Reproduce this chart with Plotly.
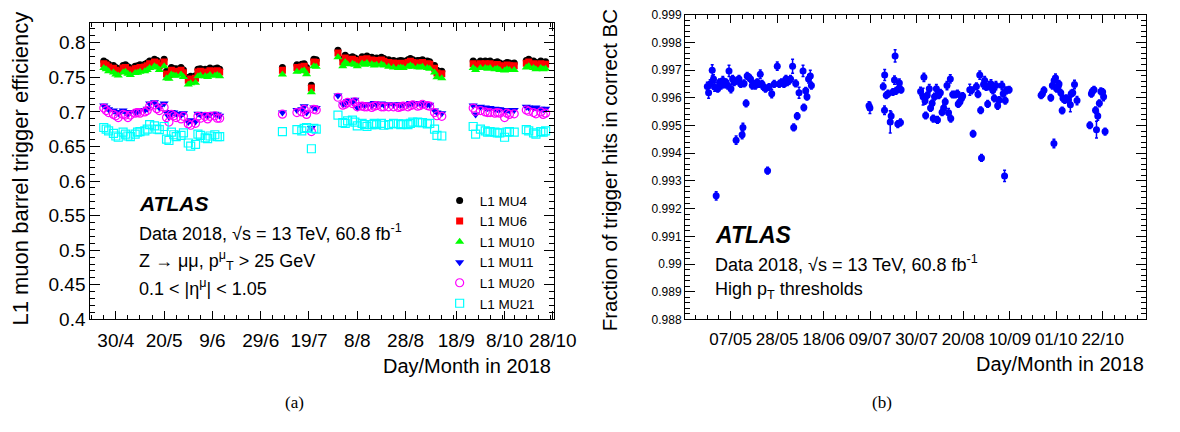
import plotly.graph_objects as go

# ---------------- panel (a): L1 muon barrel trigger efficiency ----------------
eff_dates = [
    "2018-04-25", "2018-04-26", "2018-04-27", "2018-04-29", "2018-04-30", "2018-05-01", "2018-05-03",
    "2018-05-04", "2018-05-05", "2018-05-06", "2018-05-08", "2018-05-09", "2018-05-10", "2018-05-12",
    "2018-05-13", "2018-05-14", "2018-05-16", "2018-05-17", "2018-05-18", "2018-05-20",
    "2018-05-21", "2018-05-22",
    "2018-05-23", "2018-05-24", "2018-05-25", "2018-05-27", "2018-05-28",
    "2018-05-30", "2018-05-31", "2018-06-02",
    "2018-06-03", "2018-06-04", "2018-06-06", "2018-06-07", "2018-06-08", "2018-06-10", "2018-06-11", "2018-06-12",
    "2018-07-08",
    "2018-07-14", "2018-07-16", "2018-07-17", "2018-07-18", "2018-07-20", "2018-07-21", "2018-07-22",
    "2018-07-31",
    "2018-08-02", "2018-08-03", "2018-08-04", "2018-08-06", "2018-08-07", "2018-08-08", "2018-08-10",
    "2018-08-11", "2018-08-12", "2018-08-14", "2018-08-15", "2018-08-16", "2018-08-18", "2018-08-19", "2018-08-21",
    "2018-08-23", "2018-08-25", "2018-08-26", "2018-08-27", "2018-08-29", "2018-08-30", "2018-08-31",
    "2018-09-02", "2018-09-03", "2018-09-04", "2018-09-06", "2018-09-07",
    "2018-09-09", "2018-09-10", "2018-09-12",
    "2018-09-25", "2018-09-26", "2018-09-28", "2018-09-30", "2018-10-01", "2018-10-02", "2018-10-04",
    "2018-10-05", "2018-10-06", "2018-10-08", "2018-10-09", "2018-10-10", "2018-10-12",
    "2018-10-17", "2018-10-18", "2018-10-20", "2018-10-21", "2018-10-23", "2018-10-24", "2018-10-25",
]

eff_mu4 = [
    0.7734, 0.7715, 0.7688, 0.7670, 0.7642, 0.7624, 0.7670, 0.7679, 0.7651, 0.7633, 0.7660, 0.7665, 0.7679, 0.7688,
    0.7706, 0.7734, 0.7761, 0.7743, 0.7706, 0.7761,
    0.7587, 0.7578,
    0.7642, 0.7624, 0.7624, 0.7642, 0.7605,
    0.7495, 0.7514, 0.7523,
    0.7615, 0.7624, 0.7615, 0.7605, 0.7633, 0.7624, 0.7633, 0.7615,
    0.7642,
    0.7679, 0.7688, 0.7697, 0.7642, 0.7385, 0.7761, 0.7752,
    0.7890,
    0.7761, 0.7817, 0.7789, 0.7798, 0.7780, 0.7761, 0.7798, 0.7780, 0.7807, 0.7789, 0.7771, 0.7780, 0.7789, 0.7771, 0.7752,
    0.7743, 0.7734, 0.7743, 0.7734, 0.7752, 0.7771, 0.7752, 0.7743, 0.7743, 0.7752, 0.7734, 0.7725,
    0.7670, 0.7601, 0.7587,
    0.7734, 0.7706, 0.7734, 0.7734, 0.7725, 0.7734, 0.7715, 0.7725, 0.7706, 0.7697, 0.7715, 0.7706, 0.7706,
    0.7743, 0.7761, 0.7734, 0.7715, 0.7734, 0.7715, 0.7725,
]

eff_mu6 = [
    0.7695, 0.7678, 0.7650, 0.7631, 0.7603, 0.7586, 0.7632, 0.7641, 0.7610, 0.7595, 0.7622, 0.7625, 0.7640, 0.7650,
    0.7668, 0.7694, 0.7722, 0.7705, 0.7667, 0.7720,
    0.7548, 0.7540,
    0.7603, 0.7586, 0.7584, 0.7603, 0.7566,
    0.7455, 0.7476, 0.7484,
    0.7576, 0.7586, 0.7577, 0.7565, 0.7594, 0.7585, 0.7594, 0.7577,
    0.7603,
    0.7640, 0.7650, 0.7658, 0.7604, 0.7346, 0.7722, 0.7713,
    0.7851,
    0.7722, 0.7778, 0.7751, 0.7759, 0.7741, 0.7722, 0.7760, 0.7741, 0.7768, 0.7750, 0.7733, 0.7741, 0.7750, 0.7732, 0.7713,
    0.7705, 0.7695, 0.7704, 0.7696, 0.7713, 0.7732, 0.7714, 0.7704, 0.7705, 0.7713, 0.7695, 0.7687,
    0.7631, 0.7562, 0.7549,
    0.7695, 0.7668, 0.7695, 0.7696, 0.7686, 0.7695, 0.7677, 0.7686, 0.7668, 0.7658, 0.7677, 0.7667, 0.7668,
    0.7704, 0.7722, 0.7695, 0.7677, 0.7695, 0.7676, 0.7687,
]

eff_mu10 = [
    0.7632, 0.7616, 0.7587, 0.7570, 0.7541, 0.7525, 0.7569, 0.7580, 0.7549, 0.7533, 0.7560, 0.7564, 0.7578, 0.7588,
    0.7605, 0.7633, 0.7660, 0.7642, 0.7606, 0.7659,
    0.7487, 0.7477,
    0.7541, 0.7524, 0.7523, 0.7541, 0.7505,
    0.7394, 0.7414, 0.7422,
    0.7514, 0.7524, 0.7515, 0.7504, 0.7532, 0.7523, 0.7533, 0.7514,
    0.7541,
    0.7578, 0.7588, 0.7596, 0.7542, 0.7284, 0.7660, 0.7651,
    0.7790,
    0.7660, 0.7716, 0.7689, 0.7697, 0.7680, 0.7660, 0.7698, 0.7679, 0.7706, 0.7688, 0.7670, 0.7680, 0.7688, 0.7671, 0.7651,
    0.7642, 0.7634, 0.7642, 0.7633, 0.7652, 0.7670, 0.7651, 0.7643, 0.7642, 0.7651, 0.7634, 0.7624,
    0.7570, 0.7500, 0.7487,
    0.7633, 0.7606, 0.7633, 0.7634, 0.7624, 0.7633, 0.7615, 0.7624, 0.7606, 0.7596, 0.7614, 0.7605, 0.7606,
    0.7642, 0.7660, 0.7633, 0.7614, 0.7633, 0.7615, 0.7624,
]

eff_mu11 = [
    0.7091, 0.7064, 0.7036, 0.7018, 0.6999, 0.6981, 0.7018, 0.6999, 0.6972, 0.6999, 0.6990, 0.7009, 0.7018, 0.7027,
    0.7046, 0.7119, 0.7137, 0.7091, 0.7064, 0.7119,
    0.6990, 0.6930,
    0.6999, 0.6990, 0.6972, 0.6953, 0.6981,
    0.6852, 0.6880, 0.6862,
    0.6972, 0.6963, 0.6963, 0.6944, 0.6963, 0.6972, 0.6963, 0.6944,
    0.6990,
    0.7027, 0.7036, 0.7082, 0.6990, 0.6765, 0.7064, 0.7055,
    0.7238,
    0.7110, 0.7119, 0.7156, 0.7137, 0.7174, 0.7064, 0.7110, 0.7101, 0.7110, 0.7091, 0.7128, 0.7110, 0.7119, 0.7101, 0.7110,
    0.7101, 0.7110, 0.7101, 0.7101, 0.7110, 0.7128, 0.7119, 0.7128, 0.7128, 0.7110, 0.7110, 0.7101,
    0.7018, 0.6990, 0.6981,
    0.7091, 0.6963, 0.7073, 0.7064, 0.7055, 0.7055, 0.7046, 0.7036, 0.7036, 0.7027, 0.7027, 0.7018, 0.7027,
    0.7073, 0.7064, 0.7055, 0.7064, 0.7046, 0.7036, 0.7046,
]

eff_mu20 = [
    0.7055, 0.7018, 0.6990, 0.6963, 0.6944, 0.6917, 0.6963, 0.6953, 0.6917, 0.6953, 0.6981, 0.6990, 0.6981, 0.6999,
    0.7018, 0.7082, 0.7101, 0.7046, 0.7018, 0.7064,
    0.6917, 0.6852,
    0.6963, 0.6944, 0.6917, 0.6898, 0.6935,
    0.6825, 0.6806, 0.6834,
    0.6935, 0.6908, 0.6935, 0.6898, 0.6935, 0.6944, 0.6908, 0.6908,
    0.6967,
    0.6990, 0.6999, 0.7036, 0.6963, 0.6715, 0.7036, 0.7027,
    0.7211,
    0.7096, 0.7110, 0.7137, 0.7119, 0.7146, 0.7073, 0.7082, 0.7073, 0.7073, 0.7064, 0.7082, 0.7091, 0.7073, 0.7073, 0.7073,
    0.7073, 0.7064, 0.7073, 0.7082, 0.7073, 0.7091, 0.7101, 0.7082, 0.7091, 0.7110, 0.7091, 0.7082,
    0.6990, 0.6944, 0.6935,
    0.7055, 0.7009, 0.7018, 0.6999, 0.6990, 0.6990, 0.6981, 0.6990, 0.6981, 0.6917, 0.6981, 0.6963, 0.6972,
    0.7027, 0.7009, 0.6990, 0.6972, 0.6999, 0.6963, 0.6981,
]

eff_mu21 = [
    0.6774, 0.6751, 0.6724, 0.6688, 0.6651, 0.6633, 0.6706, 0.6678, 0.6651, 0.6641, 0.6678, 0.6706, 0.6715, 0.6724,
    0.6751, 0.6816, 0.6798, 0.6751, 0.6742, 0.6788,
    0.6605, 0.6586,
    0.6706, 0.6669, 0.6641, 0.6660, 0.6697,
    0.6550, 0.6504, 0.6531,
    0.6678, 0.6660, 0.6623, 0.6614, 0.6651, 0.6669, 0.6641, 0.6641,
    0.6715,
    0.6742, 0.6724, 0.6761, 0.6774, 0.6467, 0.6761, 0.6751,
    0.6953,
    0.6843, 0.6834, 0.6871, 0.6880, 0.6852, 0.6798, 0.6834, 0.6816, 0.6788, 0.6816, 0.6834, 0.6816, 0.6834, 0.6806, 0.6816,
    0.6834, 0.6825, 0.6816, 0.6825, 0.6816, 0.6834, 0.6852, 0.6852, 0.6843, 0.6843, 0.6825, 0.6834,
    0.6751, 0.6660, 0.6651,
    0.6788, 0.6678, 0.6751, 0.6724, 0.6706, 0.6715, 0.6706, 0.6697, 0.6697, 0.6633, 0.6706, 0.6715, 0.6706,
    0.6742, 0.6724, 0.6697, 0.6678, 0.6715, 0.6706, 0.6724,
]

eff_names = ["L1 MU4", "L1 MU6", "L1 MU10", "L1 MU11", "L1 MU20", "L1 MU21"]

eff_ticks = ["2018-04-30", "2018-05-20", "2018-06-09", "2018-06-29", "2018-07-19",
             "2018-08-08", "2018-08-28", "2018-09-18", "2018-10-08", "2018-10-28"]
eff_ticktext = ["30/4", "20/5", "9/6", "29/6", "19/7", "8/8", "28/8", "18/9", "8/10", "28/10"]

# ---------------- panel (b): fraction of trigger hits in correct BC ----------------
bc_dates = [
    "2018-04-26 12:00", "2018-04-27 02:00", "2018-04-27 19:00", "2018-04-28 17:00", "2018-04-29 07:00",
    "2018-04-29 19:00", "2018-04-30 12:00", "2018-05-01 05:00", "2018-05-02 00:00", "2018-05-02 17:00",
    "2018-05-03 12:00", "2018-05-04 05:00", "2018-05-04 22:00", "2018-05-05 17:00", "2018-05-06 07:00",
    "2018-05-07 04:00", "2018-05-07 22:00", "2018-05-08 14:00", "2018-05-09 12:00", "2018-05-10 02:00",
    "2018-05-10 19:00", "2018-05-11 14:00", "2018-05-12 05:00", "2018-05-12 14:00", "2018-05-13 02:00",
    "2018-05-14 00:00", "2018-05-14 12:00", "2018-05-15 07:00", "2018-05-16 00:00", "2018-05-16 19:00",
    "2018-05-17 12:00", "2018-05-18 05:00", "2018-05-19 00:00", "2018-05-19 17:00", "2018-05-20 10:00",
    "2018-05-21 05:00", "2018-05-21 22:00", "2018-05-22 17:00", "2018-05-23 17:00", "2018-05-24 10:00",
    "2018-05-25 14:00", "2018-05-26 17:00", "2018-05-28 02:00", "2018-05-29 00:00", "2018-05-30 00:00",
    "2018-05-31 02:00", "2018-06-01 00:00", "2018-06-01 14:00", "2018-06-02 12:00", "2018-06-03 02:00",
    "2018-06-04 00:00", "2018-06-04 12:00", "2018-06-05 10:00", "2018-06-06 02:00", "2018-06-06 22:00",
    "2018-06-08 17:00", "2018-06-09 02:00", "2018-06-09 22:00", "2018-06-10 12:00", "2018-06-11 05:00",
    "2018-06-12 00:00", "2018-06-12 12:00",
    "2018-07-08 12:00", "2018-07-08 22:00", "2018-07-14 22:00", "2018-07-15 14:00", "2018-07-15 12:00",
    "2018-07-16 07:00", "2018-07-17 02:00", "2018-07-18 02:00", "2018-07-18 12:00", "2018-07-19 07:00",
    "2018-07-20 00:00", "2018-07-20 07:00", "2018-07-20 17:00", "2018-07-21 12:00", "2018-07-21 22:00",
    "2018-07-22 05:00", "2018-07-22 17:00", "2018-07-23 00:00",
    "2018-07-31 19:00", "2018-08-01 22:00", "2018-08-02 07:00", "2018-08-02 19:00", "2018-08-03 02:00",
    "2018-08-03 19:00", "2018-08-04 17:00", "2018-08-05 07:00", "2018-08-06 00:00", "2018-08-06 12:00",
    "2018-08-07 02:00", "2018-08-07 22:00", "2018-08-08 10:00", "2018-08-09 00:00", "2018-08-09 17:00",
    "2018-08-10 12:00", "2018-08-11 05:00", "2018-08-11 22:00", "2018-08-12 17:00", "2018-08-13 10:00",
    "2018-08-14 05:00", "2018-08-14 10:00", "2018-08-15 07:00", "2018-08-16 10:00", "2018-08-17 10:00",
    "2018-08-17 19:00", "2018-08-18 14:00", "2018-08-19 07:00", "2018-08-19 19:00",
    "2018-08-23 00:00", "2018-08-23 19:00", "2018-08-24 12:00", "2018-08-26 00:00", "2018-08-26 17:00",
    "2018-08-27 12:00", "2018-08-27 22:00", "2018-08-28 07:00", "2018-08-29 05:00", "2018-08-29 17:00",
    "2018-08-30 10:00", "2018-08-31 02:00", "2018-08-31 22:00", "2018-09-01 14:00", "2018-09-02 10:00",
    "2018-09-03 02:00", "2018-09-03 19:00", "2018-09-04 14:00", "2018-09-05 07:00", "2018-09-06 12:00",
    "2018-09-07 02:00", "2018-09-07 17:00", "2018-09-08 00:00", "2018-09-08 14:00", "2018-09-09 19:00",
    "2018-09-24 05:00", "2018-09-24 19:00", "2018-09-25 12:00", "2018-09-28 14:00", "2018-09-29 07:00",
    "2018-09-30 00:00", "2018-09-30 02:00", "2018-09-30 17:00", "2018-10-01 05:00", "2018-10-01 22:00",
    "2018-10-02 07:00", "2018-10-03 02:00", "2018-10-03 17:00", "2018-10-04 02:00", "2018-10-04 22:00",
    "2018-10-05 14:00", "2018-10-06 14:00", "2018-10-07 10:00", "2018-10-07 19:00", "2018-10-08 12:00",
    "2018-10-09 07:00", "2018-10-10 10:00",
    "2018-10-16 05:00", "2018-10-16 22:00", "2018-10-17 07:00", "2018-10-18 02:00", "2018-10-18 19:00",
    "2018-10-19 05:00", "2018-10-19 19:00", "2018-10-20 12:00", "2018-10-21 05:00", "2018-10-22 00:00",
    "2018-10-22 10:00", "2018-10-23 02:00",
]

bc_frac = [
    0.99641, 0.99618, 0.99650, 0.99699, 0.99668, 0.99639, 0.99246, 0.99633, 0.99656, 0.99644,
    0.99662, 0.99648, 0.99656, 0.99644, 0.99697, 0.99633, 0.99668, 0.99656, 0.99447, 0.99662,
    0.99668, 0.99650, 0.99467, 0.99493, 0.99652, 0.99580, 0.99679, 0.99674, 0.99668, 0.99644,
    0.99650, 0.99644, 0.99656, 0.99650, 0.99685, 0.99650, 0.99639, 0.99633, 0.99337, 0.99639,
    0.99615, 0.99650, 0.99714, 0.99650, 0.99656, 0.99650, 0.99668, 0.99656, 0.99662, 0.99668,
    0.99714, 0.99493, 0.99652, 0.99534, 0.99618, 0.99697, 0.99565, 0.99625, 0.99604, 0.99668,
    0.99679, 0.99644,
    0.99571, 0.99563, 0.99641, 0.99682, 0.99555, 0.99609, 0.99615, 0.99513, 0.99534, 0.99621,
    0.99664, 0.99751, 0.99625, 0.99505, 0.99633, 0.99653, 0.99511, 0.99629,
    0.99623, 0.99604, 0.99674, 0.99589, 0.99536, 0.99609, 0.99633, 0.99563, 0.99580, 0.99525,
    0.99604, 0.99633, 0.99520, 0.99609, 0.99618, 0.99548, 0.99563, 0.99586, 0.99644, 0.99546,
    0.99668, 0.99525, 0.99612, 0.99612, 0.99615, 0.99578, 0.99586, 0.99598, 0.99606,
    0.99629, 0.99627, 0.99470, 0.99641, 0.99613, 0.99682, 0.99555, 0.99383, 0.99648, 0.99662,
    0.99639, 0.99578, 0.99644, 0.99650, 0.99627, 0.99598, 0.99644, 0.99571, 0.99592, 0.99644,
    0.99615, 0.99318, 0.99590, 0.99627, 0.99629,
    0.99609, 0.99615, 0.99627, 0.99600, 0.99644, 0.99435, 0.99662, 0.99671, 0.99633, 0.99641,
    0.99650, 0.99618, 0.99554, 0.99598, 0.99592, 0.99598, 0.99592, 0.99575, 0.99615, 0.99618,
    0.99648, 0.99590,
    0.99501, 0.99615, 0.99623, 0.99629, 0.99555, 0.99485, 0.99534, 0.99580, 0.99623, 0.99621,
    0.99604, 0.99478,
]

bc_err = [
    0.00015, 0.00020, 0.00015, 0.00020, 0.00015, 0.00015, 0.00015, 0.00012, 0.00012, 0.00012,
    0.00015, 0.00012, 0.00012, 0.00012, 0.00020, 0.00015, 0.00012, 0.00012, 0.00015, 0.00012,
    0.00012, 0.00012, 0.00015, 0.00015, 0.00012, 0.00012, 0.00012, 0.00012, 0.00012, 0.00012,
    0.00012, 0.00012, 0.00012, 0.00012, 0.00015, 0.00012, 0.00012, 0.00012, 0.00012, 0.00012,
    0.00015, 0.00012, 0.00015, 0.00012, 0.00012, 0.00012, 0.00012, 0.00012, 0.00012, 0.00012,
    0.00025, 0.00012, 0.00012, 0.00012, 0.00020, 0.00020, 0.00012, 0.00012, 0.00012, 0.00015,
    0.00020, 0.00012,
    0.00015, 0.00020, 0.00012, 0.00020, 0.00015, 0.00012, 0.00012, 0.00040, 0.00015, 0.00012,
    0.00015, 0.00022, 0.00012, 0.00012, 0.00012, 0.00015, 0.00012, 0.00012,
    0.00015, 0.00030, 0.00015, 0.00012, 0.00012, 0.00012, 0.00015, 0.00012, 0.00012, 0.00012,
    0.00012, 0.00015, 0.00012, 0.00012, 0.00012, 0.00012, 0.00012, 0.00012, 0.00015, 0.00015,
    0.00015, 0.00012, 0.00012, 0.00012, 0.00012, 0.00012, 0.00012, 0.00012, 0.00012,
    0.00020, 0.00012, 0.00012, 0.00012, 0.00012, 0.00015, 0.00012, 0.00012, 0.00015, 0.00015,
    0.00012, 0.00012, 0.00015, 0.00015, 0.00012, 0.00012, 0.00015, 0.00012, 0.00012, 0.00015,
    0.00012, 0.00020, 0.00012, 0.00012, 0.00012,
    0.00012, 0.00012, 0.00012, 0.00012, 0.00012, 0.00015, 0.00015, 0.00015, 0.00012, 0.00012,
    0.00012, 0.00012, 0.00012, 0.00012, 0.00012, 0.00012, 0.00012, 0.00025, 0.00012, 0.00012,
    0.00015, 0.00015,
    0.00012, 0.00012, 0.00012, 0.00012, 0.00012, 0.00030, 0.00015, 0.00012, 0.00012, 0.00012,
    0.00015, 0.00012,
]

bc_ticks = ["2018-05-07", "2018-05-28", "2018-06-18", "2018-07-09", "2018-07-30",
            "2018-08-20", "2018-09-10", "2018-10-01", "2018-10-22"]
bc_ticktext = ["07/05", "28/05", "18/06", "09/07", "30/07", "20/08", "10/09", "01/10", "22/10"]

FONT = "Liberation Sans, Arial, Helvetica, sans-serif"
W, H = 1180, 432


def px_x(x):
    return x / W


def px_y(y):
    return 1 - y / H


fig = go.Figure()

styles = [
    dict(symbol="circle", color="#000000", size=7),
    dict(symbol="square", color="#ff0000", size=7),
    dict(symbol="triangle-up", color="#00ff00", size=8),
    dict(symbol="triangle-down", color="#0000ff", size=8),
    dict(symbol="circle-open", color="#ff00ff", size=8, line=dict(width=1.2)),
    dict(symbol="square-open", color="#00ffff", size=8, line=dict(width=1.2)),
]
for name, values, marker in zip(eff_names, [eff_mu4, eff_mu6, eff_mu10, eff_mu11, eff_mu20, eff_mu21], styles):
    fig.add_trace(go.Scatter(x=eff_dates, y=values, mode="markers", name=name, marker=marker,
                             xaxis="x", yaxis="y"))

fig.add_trace(go.Scatter(
    x=bc_dates, y=bc_frac, mode="markers", showlegend=False, xaxis="x2", yaxis="y2",
    marker=dict(symbol="circle", color="#0000ff", size=7),
    error_y=dict(type="data", array=bc_err, color="#0000ff", thickness=1.5, width=1.5),
))

frame = dict(showline=True, linecolor="black", linewidth=1, mirror="ticks", ticks="inside",
             tickcolor="black", showgrid=False, zeroline=False)

fig.update_layout(
    width=W, height=H, autosize=False,
    margin=dict(l=0, r=0, t=0, b=0),
    paper_bgcolor="white", plot_bgcolor="white",
    font=dict(family=FONT, color="black"),
    xaxis=dict(
        frame, domain=[px_x(92), px_x(565)], anchor="y", type="date",
        range=["2018-04-19 10:00", "2018-10-28 16:00"],
        tickmode="array", tickvals=eff_ticks, ticktext=eff_ticktext, ticklen=8,
        tickfont=dict(size=19), ticklabelstandoff=4,
        minor=dict(ticks="inside", ticklen=4, tickcolor="black", tick0="2018-04-30", dtick=5 * 86400000),
    ),
    yaxis=dict(
        frame, domain=[px_y(326), px_y(17)], anchor="x", range=[0.4, 0.828],
        tick0=0.4, dtick=0.05, ticklen=10, tickfont=dict(size=19),
        minor=dict(ticks="inside", ticklen=5, tickcolor="black", dtick=0.01),
    ),
    xaxis2=dict(
        frame, domain=[px_x(698), px_x(1168)], anchor="y2", type="date",
        range=["2018-04-16 10:00", "2018-11-10 16:00"],
        tickmode="array", tickvals=bc_ticks, ticktext=bc_ticktext, ticklen=8,
        tickfont=dict(size=17), ticklabelstandoff=4,
        minor=dict(ticks="inside", ticklen=4, tickcolor="black", tick0="2018-05-07", dtick=5.25 * 86400000),
    ),
    yaxis2=dict(
        frame, domain=[px_y(326), px_y(8)], anchor="x2", range=[0.988, 0.999],
        tick0=0.988, dtick=0.001, ticklen=10, tickfont=dict(size=12),
        minor=dict(ticks="inside", ticklen=5, tickcolor="black", dtick=0.0002),
    ),
    legend=dict(
        x=px_x(448), y=px_y(186), xanchor="left", yanchor="top",
        font=dict(size=13.5), bgcolor="rgba(0,0,0,0)", itemwidth=30,
    ),
    showlegend=True,
)

annotations = [
    # panel (a) texts
    dict(x=px_x(140), y=px_y(205), text="<b><i>ATLAS</i></b>", font=dict(size=21)),
    dict(x=px_x(140), y=px_y(235), text="Data 2018, √s = 13 TeV, 60.8 fb<sup>-1</sup>", font=dict(size=18)),
    dict(x=px_x(140), y=px_y(264), text="Z → μμ, p<sup>μ</sup><sub>T</sub> &gt; 25 GeV", font=dict(size=18)),
    dict(x=px_x(140), y=px_y(293), text="0.1 &lt; |η<sup>μ</sup>| &lt; 1.05", font=dict(size=18)),
    # panel (b) texts
    dict(x=px_x(727), y=px_y(238), text="<b><i>ATLAS</i></b>", font=dict(size=23)),
    dict(x=px_x(727), y=px_y(268), text="Data 2018, √s = 13 TeV, 60.8 fb<sup>-1</sup>", font=dict(size=18)),
    dict(x=px_x(727), y=px_y(296), text="High p<sub>T</sub> thresholds", font=dict(size=18)),
]
for a in annotations:
    a.update(xref="paper", yref="paper", xanchor="left", yanchor="middle", showarrow=False)

titles = [
    dict(x=px_x(564), y=px_y(375), text="Day/Month in 2018", xanchor="right", yanchor="middle", font=dict(size=20)),
    dict(x=px_x(1168), y=px_y(373), text="Day/Month in 2018", xanchor="right", yanchor="middle", font=dict(size=20)),
    dict(x=px_x(21), y=px_y(169), text="L1 muon barrel trigger efficiency", textangle=-90,
         xanchor="center", yanchor="middle", font=dict(size=22)),
    dict(x=px_x(621), y=px_y(170), text="Fraction of trigger hits in correct BC", textangle=-90,
         xanchor="center", yanchor="middle", font=dict(size=20.5)),
    dict(x=px_x(300), y=px_y(413), text="(a)", xanchor="center", yanchor="middle",
         font=dict(size=17, family="Liberation Serif, Times New Roman, serif")),
    dict(x=px_x(899), y=px_y(413), text="(b)", xanchor="center", yanchor="middle",
         font=dict(size=17, family="Liberation Serif, Times New Roman, serif")),
]
for a in titles:
    a.update(xref="paper", yref="paper", showarrow=False)

fig.update_layout(annotations=annotations + titles)

# the default page body has an 8 px margin; remove it so the figure sits at the window origin
fig.write_html("out.html", config={"displayModeBar": False},
               post_script="document.body.style.margin='0';")
